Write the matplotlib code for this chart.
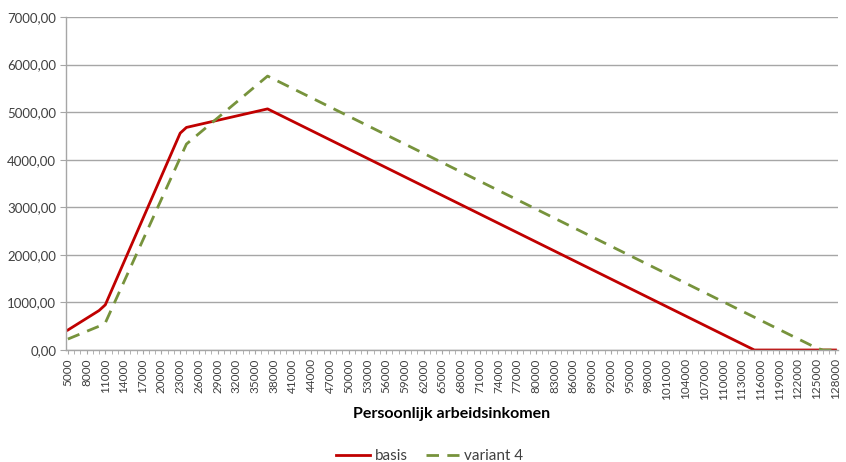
import matplotlib
matplotlib.use("Agg")
import matplotlib.pyplot as plt
from matplotlib.ticker import FuncFormatter, MultipleLocator

plt.rcParams["font.family"] = ["Lato", "DejaVu Sans"]

# breakpoints (income, amount)
basis_income = [5000, 10000, 11000, 23000, 24000, 37000, 115000, 128000]
basis_value = [420, 830, 950, 4560, 4680, 5070, 0, 0]

variant4_income = [5000, 10000, 11000, 24000, 37000, 125000, 126000, 128000]
variant4_value = [230, 500, 570, 4330, 5760, 40, 0, 0]

tick_start = 5000
tick_end = 128000
tick_step = 3000

RED = "#C00000"
GREEN = "#77933C"
GRID = "#A6A6A6"
TEXT = "#404040"

fig = plt.figure(figsize=(8.46, 4.62), dpi=100)
ax = fig.add_axes([0.078, 0.2424, 0.9125, 0.7206])

ax.plot(basis_income, basis_value, color=RED, lw=2.0, label="basis", solid_joinstyle="round")
ax.plot(variant4_income, variant4_value, color=GREEN, lw=2.0, ls=(0, (4.5, 3)), label="variant 4")

ax.set_xlim(4700, 128400)
ax.set_ylim(0, 7000)
ax.yaxis.set_major_locator(MultipleLocator(1000))
ax.yaxis.set_major_formatter(FuncFormatter(lambda v, p: f"{v:.2f}".replace(".", ",")))
ax.set_xticks(list(range(tick_start, tick_end + 1, tick_step)))
ax.set_xticklabels([str(v) for v in range(tick_start, tick_end + 1, tick_step)], rotation=90)
ax.xaxis.set_minor_locator(MultipleLocator(1000))

ax.grid(axis="y", color=GRID, lw=1.0)
ax.set_axisbelow(True)
for side in ["top", "right"]:
    ax.spines[side].set_visible(False)
for side in ["left", "bottom"]:
    ax.spines[side].set_color(GRID)
    ax.spines[side].set_linewidth(1.0)

ax.tick_params(axis="y", length=4, color=GRID, labelsize=9.5, labelcolor=TEXT, pad=3)
ax.tick_params(axis="x", which="both", length=3, color=GRID, labelsize=8.5, labelcolor=TEXT, pad=3)

ax.set_xlabel("Persoonlijk arbeidsinkomen", fontsize=11.5, fontweight="bold", color="black", labelpad=5)

fig.legend(loc="lower center", bbox_to_anchor=(0.508, -0.032), ncol=2, frameon=False,
           fontsize=11, handlelength=2.2, columnspacing=1.2, handletextpad=0.3,
           labelcolor=TEXT)

fig.savefig("out.png", dpi=100)
